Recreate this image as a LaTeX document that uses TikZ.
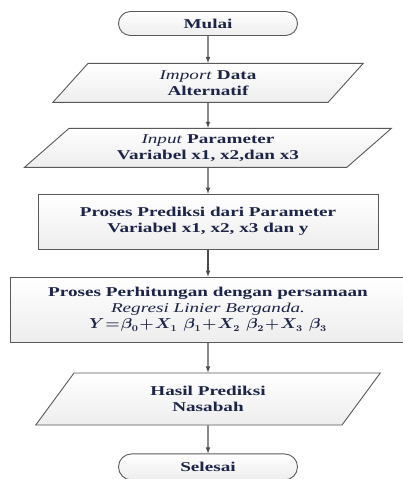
\documentclass[tikz,border=0pt]{standalone}
\usepackage{fontspec}
\setmainfont{Liberation Serif}[FakeStretch=1.42]
\usepackage{amsmath}
\usepackage{bm}
\usepackage{graphicx}
\usepackage{tikz}
\usetikzlibrary{positioning}
\usetikzlibrary{shapes.geometric,shapes.misc}

\definecolor{teks}{RGB}{28,36,72}
\newcommand{\hurufalur}{\fontsize{13.5pt}{16pt}\selectfont\bfseries}

\tikzset{
	dasar/.style={draw=black!65, line width=0.9pt, top color=white, bottom color=gray!14, text=teks, font=\hurufalur, align=center, inner sep=2pt},
	terminal/.style={dasar, rounded rectangle, minimum width=183pt, minimum height=24pt},
	io/.style={dasar, trapezium, trapezium stretches=true, trapezium left angle=#1, trapezium right angle=180-#1},
	proses/.style={dasar, rectangle},
	panah/.style={->, >=latex, line width=1.1pt, draw=black!70}
}

\begin{document}
\begin{tikzpicture}
	\useasboundingbox (0,0) rectangle (403pt,-479pt);
	
	\node[terminal] (mulai) at (208pt,-23.5pt) {Mulai};
	\node[io=63, minimum width=311pt, minimum height=39pt] (impor) [below = 27pt of mulai] {\textit{\mdseries Import} Data\\Alternatif};
	\node[io=46, minimum width=368pt, minimum height=39pt] (masukan) [below = 25pt of impor] {\textit{\mdseries Input} Parameter\\Variabel x1, x2,dan x3};
	\node[proses, minimum width=340pt, minimum height=55pt] (prediksi) [below = 26pt of masukan] {Proses Prediksi dari Parameter\\Variabel x1, x2, x3 dan y};
	\node[proses, minimum width=396pt, minimum height=65pt] (hitung) [below = 27pt of prediksi] {Proses Perhitungan dengan persamaan\\\textit{\mdseries Regresi Linier Berganda.}\\{\medmuskip=1mu\thickmuskip=1mu\scalebox{1.15}[1]{$\bm{Y=\beta_0+X_1\mkern7mu\beta_1+X_2\mkern7mu\beta_2+X_3\mkern7mu\beta_3}$}}};
	\node[io=60, minimum width=345pt, minimum height=52pt] (hasil) [below = 30pt of hitung] {Hasil Prediksi\\Nasabah};
	\node[terminal, minimum height=26pt] (selesai) [below = 28pt of hasil] {Selesai};
	
	\draw[panah] (mulai) -- (impor);
	\draw[panah] (impor) -- (masukan);
	\draw[panah] (masukan) -- (prediksi);
	\draw[panah] (prediksi) -- (hitung);
	\draw[panah] (hitung) -- (hasil);
	\draw[panah] (hasil) -- (selesai);
\end{tikzpicture}
\end{document}
